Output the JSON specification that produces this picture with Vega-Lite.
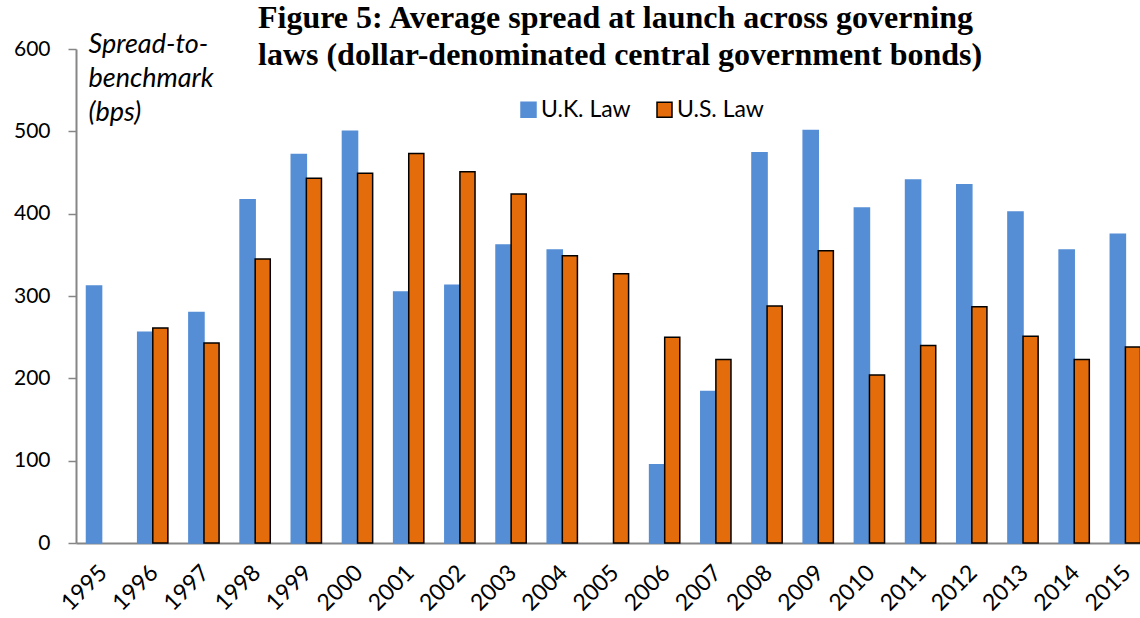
{
  "$schema": "https://vega.github.io/schema/vega-lite/v6.json",
  "autosize": {"type": "none"},
  "padding": {"left": 76, "top": 49, "right": 0, "bottom": 75},
  "width": 1064,
  "height": 494,
  "background": "white",
  "title": {
    "text": ["Figure 5: Average spread at launch across governing", "laws (dollar-denominated central government bonds)"],
    "font": "Liberation Serif",
    "fontSize": 32,
    "fontWeight": "bold",
    "color": "black",
    "anchor": "start",
    "frame": "group",
    "dx": 182,
    "dy": 42,
    "lineHeight": 37,
    "offset": 0
  },
  "data": {
    "values": [
      {"year": "1995", "law": "U.K. Law", "spread": 312},
      {"year": "1996", "law": "U.K. Law", "spread": 256},
      {"year": "1996", "law": "U.S. Law", "spread": 261},
      {"year": "1997", "law": "U.K. Law", "spread": 280},
      {"year": "1997", "law": "U.S. Law", "spread": 243},
      {"year": "1998", "law": "U.K. Law", "spread": 417},
      {"year": "1998", "law": "U.S. Law", "spread": 345},
      {"year": "1999", "law": "U.K. Law", "spread": 472},
      {"year": "1999", "law": "U.S. Law", "spread": 443},
      {"year": "2000", "law": "U.K. Law", "spread": 500},
      {"year": "2000", "law": "U.S. Law", "spread": 449},
      {"year": "2001", "law": "U.K. Law", "spread": 305},
      {"year": "2001", "law": "U.S. Law", "spread": 473},
      {"year": "2002", "law": "U.K. Law", "spread": 313},
      {"year": "2002", "law": "U.S. Law", "spread": 451},
      {"year": "2003", "law": "U.K. Law", "spread": 362},
      {"year": "2003", "law": "U.S. Law", "spread": 424},
      {"year": "2004", "law": "U.K. Law", "spread": 356},
      {"year": "2004", "law": "U.S. Law", "spread": 349},
      {"year": "2005", "law": "U.S. Law", "spread": 327},
      {"year": "2006", "law": "U.K. Law", "spread": 95},
      {"year": "2006", "law": "U.S. Law", "spread": 250},
      {"year": "2007", "law": "U.K. Law", "spread": 184},
      {"year": "2007", "law": "U.S. Law", "spread": 223},
      {"year": "2008", "law": "U.K. Law", "spread": 474},
      {"year": "2008", "law": "U.S. Law", "spread": 288},
      {"year": "2009", "law": "U.K. Law", "spread": 501},
      {"year": "2009", "law": "U.S. Law", "spread": 355},
      {"year": "2010", "law": "U.K. Law", "spread": 407},
      {"year": "2010", "law": "U.S. Law", "spread": 204},
      {"year": "2011", "law": "U.K. Law", "spread": 441},
      {"year": "2011", "law": "U.S. Law", "spread": 240},
      {"year": "2012", "law": "U.K. Law", "spread": 435},
      {"year": "2012", "law": "U.S. Law", "spread": 287},
      {"year": "2013", "law": "U.K. Law", "spread": 402},
      {"year": "2013", "law": "U.S. Law", "spread": 251},
      {"year": "2014", "law": "U.K. Law", "spread": 356},
      {"year": "2014", "law": "U.S. Law", "spread": 223},
      {"year": "2015", "law": "U.K. Law", "spread": 375},
      {"year": "2015", "law": "U.S. Law", "spread": 238}
    ]
  },
  "mark": {"type": "bar", "strokeWidth": 1.5},
  "encoding": {
    "x": {
      "field": "year",
      "type": "ordinal",
      "scale": {"range": [0, 1075], "paddingInner": 0.41, "paddingOuter": 0.205},
      "axis": {
        "title": null,
        "labelAngle": -45,
        "labelFont": "Lato",
        "labelFontSize": 23,
        "labelColor": "black",
        "labelPadding": 18,
        "labelOffset": -6,
        "ticks": false,
        "domainColor": "#868686",
        "domainWidth": 2,
        "grid": false
      }
    },
    "xOffset": {"field": "law", "type": "nominal", "scale": {"domain": ["U.K. Law", "U.S. Law"]}},
    "y": {
      "field": "spread",
      "type": "quantitative",
      "scale": {"domain": [0, 600], "nice": false},
      "axis": {
        "values": [0, 100, 200, 300, 400, 500, 600],
        "title": ["Spread-to-", "benchmark", "(bps)"],
        "titleAngle": 0,
        "titleAlign": "left",
        "titleBaseline": "top",
        "titleX": 12,
        "titleY": -18,
        "titleFont": "Lato",
        "titleFontSize": 27,
        "titleFontStyle": "italic",
        "titleFontWeight": "normal",
        "titleColor": "black",
        "titleLineHeight": 34,
        "labelFont": "Lato",
        "labelFontSize": 21,
        "labelColor": "black",
        "labelPadding": 18,
        "tickSize": 8,
        "tickColor": "#868686",
        "tickWidth": 1.5,
        "domainColor": "#868686",
        "domainWidth": 2,
        "grid": false
      }
    },
    "color": {
      "field": "law",
      "type": "nominal",
      "scale": {"domain": ["U.K. Law", "U.S. Law"], "range": ["#558ED5", "#E46C0A"]},
      "legend": {
        "title": null,
        "orient": "none",
        "legendX": 441,
        "legendY": 49,
        "direction": "horizontal",
        "symbolType": "square",
        "symbolSize": 225,
        "symbolStrokeWidth": 1.5,
        "labelFont": "Lato",
        "labelFontSize": 23,
        "labelColor": "black",
        "labelOffset": 1,
        "columnPadding": 22
      }
    },
    "stroke": {
      "field": "law",
      "type": "nominal",
      "scale": {"domain": ["U.K. Law", "U.S. Law"], "range": ["#558ED5", "black"]},
      "legend": {
        "title": null,
        "orient": "none",
        "legendX": 441,
        "legendY": 49,
        "direction": "horizontal",
        "symbolType": "square",
        "symbolSize": 225,
        "symbolStrokeWidth": 1.5,
        "labelFont": "Lato",
        "labelFontSize": 23,
        "labelColor": "black",
        "labelOffset": 1,
        "columnPadding": 22
      }
    }
  },
  "config": {"view": {"stroke": null}}
}
